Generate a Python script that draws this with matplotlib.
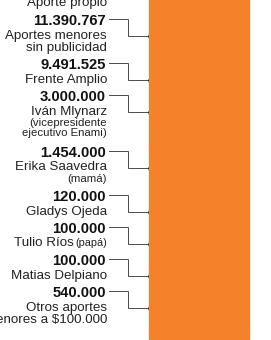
import numpy as np
import matplotlib.pyplot as plt

# aportes de campaña (pesos)
names = ["Aportes menores\nsin publicidad", "Frente Amplio", "Iván Mlynarz", "Erika Saavedra",
         "Gladys Ojeda", "Tulio Ríos", "Matias Delpiano", "Otros aportes\nmenores a $100.000"]
notes = ["", "", "(vicepresidente\nejecutivo Enami)", "(mamá)", "", "(papá)", "", ""]
note_inline = [False, False, False, False, False, True, False, False]
amounts = [11390767, 9491525, 3000000, 1454000, 120000, 100000, 100000, 540000]
top_label = "Aporte propio"

ORANGE = "#f5822a"
LINE = "#4a4a4a"
FONT = ["Liberation Sans", "DejaVu Sans"]

W, H = 271, 340
fig = plt.figure(figsize=(W / 100, H / 100), dpi=100)
ax = fig.add_axes([0, 0, 1, 1])
ax.set_xlim(0, W)
ax.set_ylim(H, 0)
ax.axis("off")

# barra apilada con los montos (sin separaciones visibles)
ax2 = ax.twinx()
ax2.set_ylim(0, sum(amounts))
ax2.set_xlim(0, W)
ax2.axis("off")
bottom = 0
for v in amounts[::-1]:
    ax2.bar(199.5, v, bottom=bottom, width=101, color=ORANGE, edgecolor=ORANGE, linewidth=0.3, zorder=1)
    bottom += v

def fmt(v):
    return f"{v:,}".replace(",", ".")

text_right = 107
x_elbow = 127.5
x_dot = 150.5

# etiqueta superior cortada
ax.text(text_right, 6, top_label, ha="right", va="baseline", fontsize=9.6, family=FONT, color="#222")

y = 20
for name, note, inline, v in zip(names, notes, note_inline, amounts):
    ax.text(text_right - 1, y + 5, fmt(v), ha="right", va="baseline", fontsize=10.6,
            fontweight="bold", family=FONT, color="#111")
    lines = name.split("\n")
    ly = y + 14
    for i, ln in enumerate(lines):
        last = i == len(lines) - 1
        shift = 33 if (inline and last) else 0
        ax.text(text_right - shift, ly + 4.5, ln, ha="right", va="baseline", fontsize=9.6,
                family=FONT, color="#222")
        if inline and last:
            ax.text(text_right, ly + 4.5, note, ha="right", va="baseline", fontsize=7.8,
                    family=FONT, color="#222")
        ly += 12
    n_lines = len(lines)
    if note and not inline:
        for ln in note.split("\n"):
            ax.text(text_right, ly + 3.5, ln, ha="right", va="baseline", fontsize=8.2,
                    family=FONT, color="#222")
            ly += 11
            n_lines += 1
    dot_y = y + 16
    ax.plot([text_right + 2, x_elbow, x_elbow, x_dot], [y - 1, y - 1, dot_y, dot_y],
            color=LINE, lw=0.7, zorder=3, solid_joinstyle="miter")
    ax.plot(x_dot, dot_y, "o", color="#111", ms=3.6, zorder=4)
    y += 20 + 12 * n_lines

fig.savefig("out.png", dpi=100)
